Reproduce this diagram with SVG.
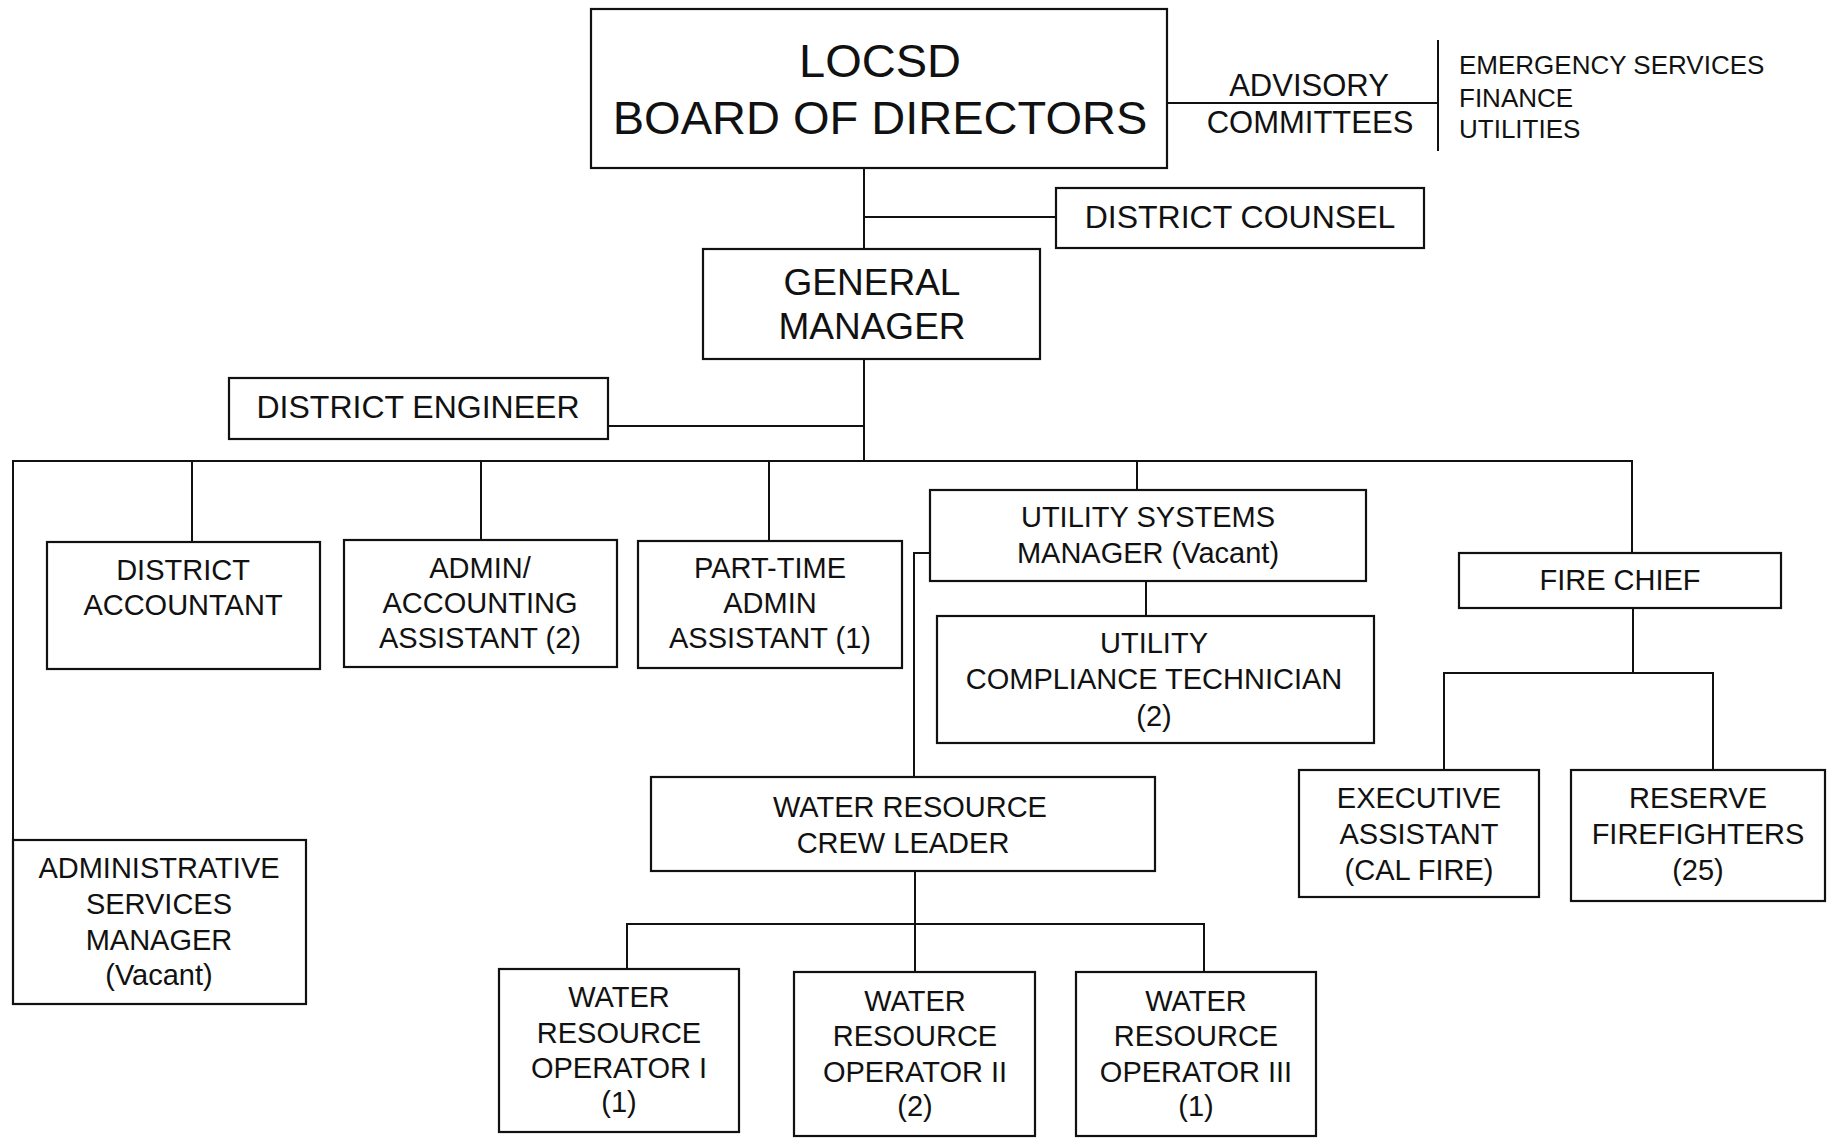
<svg xmlns="http://www.w3.org/2000/svg" width="1835" height="1139" viewBox="0 0 1835 1139">
<style>
.box{fill:#fff;stroke:#111;stroke-width:2.2}
.ln{fill:none;stroke:#111;stroke-width:2}
text{font-family:"Liberation Sans",Arial,sans-serif;fill:#111;text-anchor:middle}
.t29{font-size:29px}
.t32{font-size:32px}
.t37{font-size:37px}
.t47{font-size:47px}
.t30{font-size:31px}
.t26{font-size:26px;text-anchor:start}
</style>
<rect width="1835" height="1139" fill="#fff"/>
<g id="connectors">
<path class="ln" d="M864 168V249"/>
<path class="ln" d="M864 217H1056"/>
<path class="ln" d="M1167 103H1438"/>
<path class="ln" d="M1438 40V151"/>
<path class="ln" d="M864 359V461"/>
<path class="ln" d="M608 426H864"/>
<path class="ln" d="M13 840V461H1632V553"/>
<path class="ln" d="M192 461V542"/>
<path class="ln" d="M481 461V540"/>
<path class="ln" d="M769 461V541"/>
<path class="ln" d="M1137 461V490"/>
<path class="ln" d="M1146 581V616"/>
<path class="ln" d="M930 553H914V777"/>
<path class="ln" d="M915 871V972"/>
<path class="ln" d="M627 969V924H1204V972"/>
<path class="ln" d="M1633 608V673"/>
<path class="ln" d="M1444 770V673H1713V770"/>
</g>
<g id="board">
<rect class="box" x="591" y="9" width="576" height="159"/>
<text class="t47" x="880" y="77">LOCSD</text>
<text class="t47" x="880" y="134">BOARD OF DIRECTORS</text>
</g>
<g id="advisory">
<text class="t30" x="1309" y="96">ADVISORY</text>
<text class="t30" x="1310" y="133">COMMITTEES</text>
</g>
<g id="committees">
<text class="t26" x="1459" y="74">EMERGENCY SERVICES</text>
<text class="t26" x="1459" y="107">FINANCE</text>
<text class="t26" x="1459" y="138">UTILITIES</text>
</g>
<g id="counsel">
<rect class="box" x="1056" y="188" width="368" height="60"/>
<text class="t32" x="1240" y="228">DISTRICT COUNSEL</text>
</g>
<g id="gm">
<rect class="box" x="703" y="249" width="337" height="110"/>
<text class="t37" x="872" y="295">GENERAL</text>
<text class="t37" x="872" y="339">MANAGER</text>
</g>
<g id="engineer">
<rect class="box" x="229" y="378" width="379" height="61"/>
<text class="t32" x="418" y="418">DISTRICT ENGINEER</text>
</g>
<g id="accountant">
<rect class="box" x="47" y="542" width="273" height="127"/>
<text class="t29" x="183" y="580">DISTRICT</text>
<text class="t29" x="183" y="615">ACCOUNTANT</text>
</g>
<g id="admin-accounting">
<rect class="box" x="344" y="540" width="273" height="127"/>
<text class="t29" x="480" y="578">ADMIN/</text>
<text class="t29" x="480" y="613">ACCOUNTING</text>
<text class="t29" x="480" y="648">ASSISTANT (2)</text>
</g>
<g id="part-time">
<rect class="box" x="638" y="541" width="264" height="127"/>
<text class="t29" x="770" y="578">PART-TIME</text>
<text class="t29" x="770" y="613">ADMIN</text>
<text class="t29" x="770" y="648">ASSISTANT (1)</text>
</g>
<g id="usm">
<rect class="box" x="930" y="490" width="436" height="91"/>
<text class="t29" x="1148" y="527">UTILITY SYSTEMS</text>
<text class="t29" x="1148" y="563">MANAGER (Vacant)</text>
</g>
<g id="uct">
<rect class="box" x="937" y="616" width="437" height="127"/>
<text class="t29" x="1154" y="653">UTILITY</text>
<text class="t29" x="1154" y="689">COMPLIANCE TECHNICIAN</text>
<text class="t29" x="1154" y="726">(2)</text>
</g>
<g id="fire-chief">
<rect class="box" x="1459" y="553" width="322" height="55"/>
<text class="t29" x="1620" y="590">FIRE CHIEF</text>
</g>
<g id="exec-assistant">
<rect class="box" x="1299" y="770" width="240" height="127"/>
<text class="t29" x="1419" y="808">EXECUTIVE</text>
<text class="t29" x="1419" y="844">ASSISTANT</text>
<text class="t29" x="1419" y="880">(CAL FIRE)</text>
</g>
<g id="reserve">
<rect class="box" x="1571" y="770" width="254" height="131"/>
<text class="t29" x="1698" y="808">RESERVE</text>
<text class="t29" x="1698" y="844">FIREFIGHTERS</text>
<text class="t29" x="1698" y="880">(25)</text>
</g>
<g id="asm">
<rect class="box" x="13" y="840" width="293" height="164"/>
<text class="t29" x="159" y="878">ADMINISTRATIVE</text>
<text class="t29" x="159" y="914">SERVICES</text>
<text class="t29" x="159" y="950">MANAGER</text>
<text class="t29" x="159" y="985">(Vacant)</text>
</g>
<g id="crew-leader">
<rect class="box" x="651" y="777" width="504" height="94"/>
<text class="t29" x="910" y="817">WATER RESOURCE</text>
<text class="t29" x="903" y="853">CREW LEADER</text>
</g>
<g id="op1">
<rect class="box" x="499" y="969" width="240" height="163"/>
<text class="t29" x="619" y="1007">WATER</text>
<text class="t29" x="619" y="1043">RESOURCE</text>
<text class="t29" x="619" y="1078">OPERATOR I</text>
<text class="t29" x="619" y="1112">(1)</text>
</g>
<g id="op2">
<rect class="box" x="794" y="972" width="241" height="164"/>
<text class="t29" x="915" y="1011">WATER</text>
<text class="t29" x="915" y="1046">RESOURCE</text>
<text class="t29" x="915" y="1082">OPERATOR II</text>
<text class="t29" x="915" y="1116">(2)</text>
</g>
<g id="op3">
<rect class="box" x="1076" y="972" width="240" height="164"/>
<text class="t29" x="1196" y="1011">WATER</text>
<text class="t29" x="1196" y="1046">RESOURCE</text>
<text class="t29" x="1196" y="1082">OPERATOR III</text>
<text class="t29" x="1196" y="1116">(1)</text>
</g>
</svg>
